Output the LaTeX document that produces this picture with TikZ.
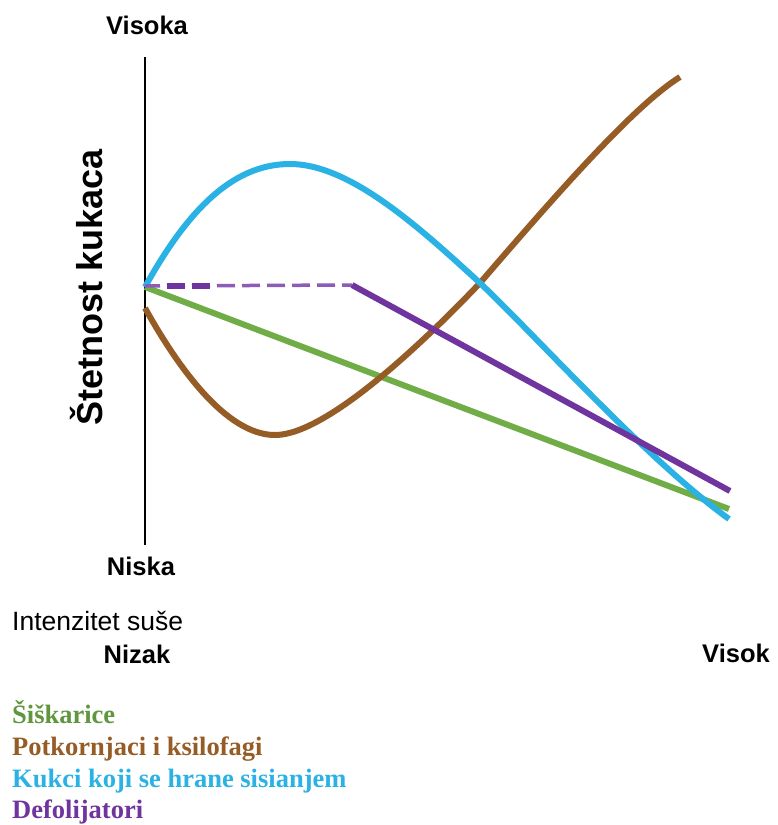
\documentclass[tikz,border=0pt]{standalone}
\usepackage{fontspec}
\setmainfont{Liberation Serif}
\setsansfont{Liberation Sans}
\definecolor{cgreen}{RGB}{112,173,71}
\definecolor{cgreentxt}{RGB}{96,150,62}
\definecolor{cbrown}{RGB}{150,92,38}
\definecolor{cblue}{RGB}{42,178,228}
\definecolor{cpurple}{RGB}{112,52,158}
\definecolor{cpurplelight}{RGB}{140,92,182}
\begin{document}
\begin{tikzpicture}[x=1pt,y=-1pt,
  curve/.style={line width=6pt},
  axlbl/.style={font=\sffamily\bfseries\fontsize{25.5}{30}\selectfont, inner sep=0pt},
  sfreg/.style={font=\sffamily\fontsize{26.5}{31}\selectfont, inner sep=0pt},
  ylbl/.style={font=\sffamily\bfseries\fontsize{36}{42}\selectfont, inner sep=0pt},
  leg/.style={font=\rmfamily\bfseries\fontsize{26.5}{31}\selectfont, inner sep=0pt, anchor=base west}]
\useasboundingbox (0,0) rectangle (777,825);
\fill[white] (0,0) rectangle (777,825);

% axis
\coordinate (atop) at (145,57);
\coordinate (abot) at (145,545);
\draw[line width=1.4pt, black] (atop) -- (abot);

% labels
\node[axlbl, anchor=base] (hi) at (147,34) {Visoka};
\node[axlbl, anchor=base] (lo) at (141,575) {Niska};
\node[sfreg, anchor=base west] (int) at (12,630) {Intenzitet suše};
\node[axlbl, anchor=base] (nizak) at (137,663) {Nizak};
\node[axlbl, anchor=base] (visok) at (736,662) {Visok};
\node[ylbl, rotate=90, anchor=base] (ylab) at (102,287) {Štetnost kukaca};

% green
\coordinate (g0) at (145,287);
\coordinate (g1) at (729,509);
\draw[curve, cgreen] (g0) -- (g1);

% brown
\coordinate (b0) at (145,308);
\coordinate (b1) at (276,435);
\coordinate (b2) at (480,283);
\coordinate (b3) at (680,77);
\draw[curve, cbrown] (b0) .. controls (175,362) and (225,436) .. (b1)
  .. controls (327,434) and (423,343) .. (b2)
  .. controls (560,190) and (635,105) .. (b3);

% blue
\coordinate (c0) at (145,287);
\coordinate (c1) at (290,164);
\coordinate (c2) at (480,283);
\coordinate (c3) at (729,519);
\draw[curve, cblue] (c0) .. controls (185,215) and (230,164) .. (c1)
  .. controls (350,164) and (420,228) .. (c2)
  .. controls (540,340) and (645,458) .. (c3);

% purple
\coordinate (p0) at (145,286);
\coordinate (p1) at (352,285);
\coordinate (p2) at (730,491);
\coordinate (pt0) at (167,286);
\coordinate (pt1) at (211,286);
\draw[line width=3.5pt, cpurplelight, dash pattern=on 18pt off 7pt, dash phase=3pt] (p0) -- (p1);
\draw[line width=6pt, cpurple, dash pattern=on 18pt off 7pt] (pt0) -- (pt1);
\draw[curve, cpurple] (p1) -- (p2);

% legend
\node[leg, text=cgreentxt] (l1) at (12,723) {Šiškarice};
\node[leg, text=cbrown] (l2) at (12,755) {Potkornjaci i ksilofagi};
\node[leg, text=cblue] (l3) at (12,787) {Kukci koji se hrane sisianjem};
\node[leg, text=cpurple] (l4) at (12,818) {Defolijatori};
\end{tikzpicture}
\end{document}
